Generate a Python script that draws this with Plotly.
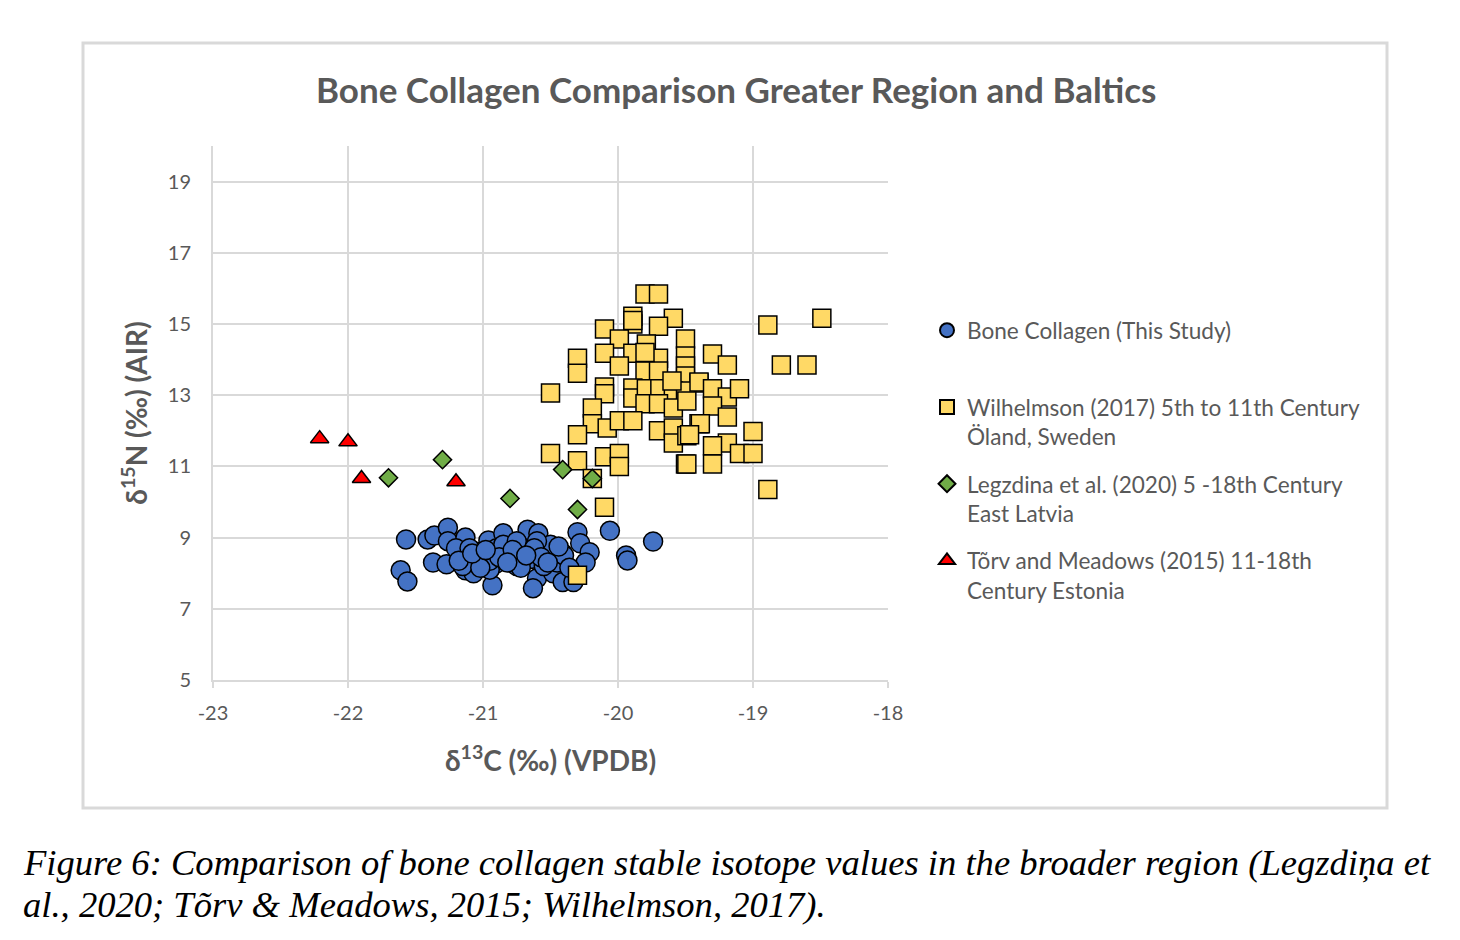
import plotly.graph_objects as go

# --- data ---
bone_c = [-21.57, -21.41, -21.36, -21.26, -21.26, -21.13, -21.61, -21.56, -21.37, -21.27,
          -21.16, -21.10, -21.13, -21.07, -20.96, -20.93, -20.90, -20.93, -20.85, -20.81,
          -20.74, -20.67, -20.59, -20.67, -20.70, -20.60, -20.63, -20.52, -20.48, -20.41,
          -20.48, -20.41, -20.33, -20.30, -20.28, -20.21, -20.24, -20.06, -19.94, -19.93,
          -19.74, -21.00, -20.95, -20.90, -20.80, -20.75, -20.70, -20.65, -20.55, -20.50,
          -20.45, -20.60, -21.05, -21.15, -20.85, -20.75, -20.95, -20.55, -20.40, -21.20,
          -21.10, -21.02, -20.88, -20.78, -20.72, -20.62, -20.57, -20.52, -20.44, -20.36,
          -21.18, -21.08, -20.98, -20.82, -20.68]
bone_n = [8.95, 8.95, 9.06, 9.28, 8.90, 9.00, 8.08, 7.77, 8.30, 8.25,
          8.56, 8.44, 8.08, 8.00, 8.92, 8.50, 8.28, 7.66, 9.12, 8.58,
          8.84, 9.22, 9.12, 8.64, 8.36, 7.86, 7.58, 8.42, 8.72, 8.56,
          8.00, 7.75, 7.75, 9.15, 8.84, 8.59, 8.30, 9.19, 8.50, 8.36,
          8.89, 8.30, 8.10, 8.70, 8.40, 8.20, 8.60, 8.40, 8.60, 8.80,
          8.30, 8.90, 8.60, 8.20, 8.80, 8.90, 8.35, 8.20, 8.50, 8.70,
          8.70, 8.15, 8.45, 8.65, 8.15, 8.70, 8.45, 8.30, 8.75, 8.15,
          8.35, 8.55, 8.65, 8.30, 8.50]

wil_c = [-19.80, -19.70, -19.89, -19.89, -19.59, -20.10, -19.70, -19.99, -19.50, -20.10,
         -19.89, -19.79, -20.30, -20.30, -19.99, -19.70, -19.50, -19.50, -19.80, -19.70,
         -19.50, -19.30, -20.50, -20.10, -20.10, -19.89, -19.89, -19.79, -19.69, -19.59,
         -19.40, -19.50, -19.80, -19.70, -19.59, -19.49, -20.19, -20.19, -20.08, -19.99,
         -19.89, -20.30, -19.70, -19.59, -19.59, -19.49, -19.40, -20.50, -20.30, -20.10,
         -19.99, -19.99, -19.50, -20.19, -20.10, -20.30, -18.89, -18.49, -19.19, -18.79,
         -18.60, -19.40, -19.30, -19.19, -19.10, -19.30, -19.19, -19.39, -19.00, -19.47,
         -19.19, -19.30, -19.10, -19.00, -19.49, -19.30, -18.89, -19.89, -19.80, -19.60]
wil_n = [15.84, 15.84, 15.22, 15.00, 15.16, 14.86, 14.94, 14.58, 14.58, 14.18,
         14.18, 14.44, 14.04, 13.62, 13.82, 14.04, 14.10, 13.82, 13.68, 13.68,
         13.54, 14.16, 13.06, 13.23, 13.04, 13.20, 12.92, 13.18, 13.18, 13.12,
         13.34, 13.12, 12.76, 12.76, 12.64, 12.84, 12.64, 12.20, 12.08, 12.28,
         12.28, 11.89, 12.00, 12.08, 11.66, 11.86, 12.20, 11.36, 11.16, 11.27,
         11.36, 11.00, 11.07, 10.66, 9.85, 7.94, 14.97, 15.16, 13.85, 13.85,
         13.85, 13.37, 13.18, 12.95, 13.18, 12.70, 12.39, 12.20, 11.98, 11.89,
         11.66, 11.58, 11.36, 11.36, 11.07, 11.07, 10.35, 15.10, 14.20, 13.40]

leg_c = [-21.70, -21.30, -20.80, -20.41, -20.30, -20.19]
leg_n = [10.68, 11.19, 10.10, 10.91, 9.79, 10.66]

torv_c = [-22.21, -22.00, -21.90, -21.20]
torv_n = [11.78, 11.69, 10.66, 10.57]

x_ticks = [-23, -22, -21, -20, -19, -18]
x_labels = ["-23", "-22", "-21", "-20", "-19", "-18"]
y_ticks = [5, 7, 9, 11, 13, 15, 17, 19]

series_names = ["Bone Collagen (This Study)<br> ",
                "Wilhelmson (2017) 5th to 11th Century<br>Öland, Sweden",
                "Legzdina et al. (2020) 5 -18th Century<br>East Latvia",
                "Tõrv and Meadows (2015) 11-18th<br>Century Estonia"]

# page body has an 8px margin, so the figure is a bit smaller than the window
OFF = 8
W, H = 1460 - OFF, 940 - OFF


def px(x):
    return (x - OFF) / W


def py(y):
    return 1 - (y - OFF) / H


grey = "#595959"
grid = "#D9D9D9"
font = "Lato"

styles = [
    dict(symbol="circle", color="#4472C4", size=19),
    dict(symbol="square", color="#FFD966", size=18),
    dict(symbol="diamond", color="#70AD47", size=14),
    dict(symbol="triangle-up", color="#FF0000", size=16),
]
legend_sizes = [14, 14, 13, 14]
datasets = [(bone_c, bone_n), (wil_c, wil_n), (leg_c, leg_n), (torv_c, torv_n)]

fig = go.Figure()
for (xs, ys), st in zip(datasets, styles):
    fig.add_trace(go.Scatter(
        x=xs, y=ys, mode="markers", showlegend=False, hoverinfo="x+y",
        marker=dict(symbol=st["symbol"], size=st["size"], color=st["color"],
                    line=dict(color="black", width=1.5))))

# legend entries with smaller symbols like the original
for i, (name, st) in enumerate(zip(series_names, styles)):
    fig.add_trace(go.Scatter(
        x=[None], y=[None], mode="markers", name=name, legendgroup=f"g{i}",
        marker=dict(symbol=st["symbol"], size=legend_sizes[i], color=st["color"],
                    line=dict(color="black", width=2))))

fig.update_layout(
    width=W, height=H,
    paper_bgcolor="white", plot_bgcolor="white",
    margin=dict(l=0, r=0, t=0, b=0, autoexpand=False),
    font=dict(family=font, color=grey),
    legend=dict(x=px(927), y=py(309), xanchor="left", yanchor="top",
                font=dict(size=22.6, color=grey), valign="top", traceorder="grouped",
                tracegroupgap=15, itemsizing="trace", bgcolor="rgba(0,0,0,0)"),
    xaxis=dict(domain=[px(213), px(888)], range=[-23, -18],
               tickvals=x_ticks, ticktext=x_labels,
               showgrid=True, gridcolor=grid, gridwidth=2, zeroline=False,
               showline=True, linecolor=grid, linewidth=2,
               ticks="outside", ticklen=6, tickcolor=grid, tickwidth=2,
               tickfont=dict(size=20, color=grey), ticklabelstandoff=8,
               title=dict(text="<b>δ<sup>13</sup>C (‰) (VPDB)</b>",
                          font=dict(size=28, color=grey), standoff=28)),
    yaxis=dict(domain=[py(680), py(146)], range=[5, 20], tickvals=y_ticks,
               showgrid=True, gridcolor=grid, gridwidth=2, zeroline=False,
               showline=True, linecolor=grid, linewidth=2,
               tickfont=dict(size=20, color=grey), ticklabelstandoff=16,
               title=dict(text="<b>δ<sup>15</sup>N (‰) (AIR)</b>",
                          font=dict(size=28, color=grey), standoff=12)),
)

# chart title
fig.add_annotation(text="<b>Bone Collagen Comparison Greater Region and Baltics</b>",
                   x=px(736), y=py(89), xref="paper", yref="paper",
                   xanchor="center", yanchor="middle", showarrow=False,
                   font=dict(size=35, color=grey, family=font))

# chart frame
fig.add_shape(type="rect", xref="paper", yref="paper",
              x0=px(83), x1=px(1387), y0=py(808), y1=py(43),
              line=dict(color=grid, width=3), layer="below")

# caption, two lines
caption = ["<i>Figure 6: Comparison of bone collagen stable isotope values in the broader region (Legzdiņa et</i>",
           "<i>al., 2020; Tõrv &amp; Meadows, 2015; Wilhelmson, 2017).</i>"]
for line, yy in zip(caption, [862, 904]):
    fig.add_annotation(text=line, x=px(21), y=py(yy), xref="paper", yref="paper",
                       xanchor="left", yanchor="middle", align="left", showarrow=False,
                       font=dict(size=36.6, color="black", family="Liberation Serif"))

fig.write_html("out.html")
